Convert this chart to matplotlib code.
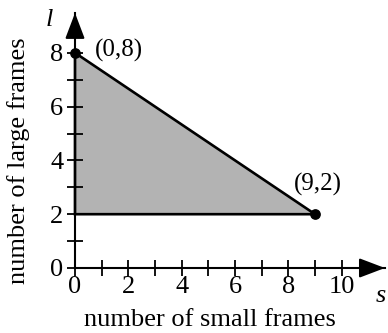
import matplotlib
matplotlib.use("Agg")
import matplotlib.pyplot as plt
from matplotlib.ticker import FuncFormatter

# Data
vertices_s = [0, 9, 0]
vertices_l = [8, 2, 2]
points = [(0, 8), (9, 2)]
point_labels = ["(0,8)", "(9,2)"]
x_ticks = list(range(0, 11))
y_ticks = list(range(0, 9))
x_label = "number of small frames"
y_label = "number of large frames"

plt.rcParams['font.family'] = ['Liberation Serif', 'DejaVu Serif']

W, H = 388, 333
fig = plt.figure(figsize=(W/100, H/100), dpi=100)
x0, y0 = 75, 268
ux, uy = 26.67, 26.9
xmax, ymax = 11.62, 9.48
ax = fig.add_axes([x0/W, (H - y0)/H, xmax*ux/W, ymax*uy/H])
ax.set_xlim(0, xmax)
ax.set_ylim(0, ymax)

ax.fill(vertices_s, vertices_l, facecolor="#b3b3b3", edgecolor="none", zorder=1)
closed_s = vertices_s + [vertices_s[0]]
closed_l = vertices_l + [vertices_l[0]]
ax.plot(closed_s, closed_l, color="black", lw=1.9, zorder=3, clip_on=False, solid_joinstyle="miter")
ax.scatter([p[0] for p in points], [p[1] for p in points], s=45, color="black", zorder=5, clip_on=False)

ax.text(0.75, 8.1, point_labels[0], fontsize=18, ha="left", va="center")
ax.text(9.1, 3.1, point_labels[1], fontsize=18, ha="center", va="center")

for side in ["top", "right"]:
    ax.spines[side].set_visible(False)
for side in ["left", "bottom"]:
    ax.spines[side].set_linewidth(1.5)
    ax.spines[side].set_zorder(4)

# Arrow heads
arrow_style = "-|>,head_length=1.58,head_width=0.6"
ax.annotate("", xy=(1, 0), xytext=(1 - 24/(xmax*ux), 0), xycoords="axes fraction",
            arrowprops=dict(arrowstyle=arrow_style, mutation_scale=10,
                            color="black", lw=1.5, shrinkA=0, shrinkB=0), annotation_clip=False)
ax.annotate("", xy=(0, 1), xytext=(0, 1 - 24/(ymax*uy)), xycoords="axes fraction",
            arrowprops=dict(arrowstyle=arrow_style, mutation_scale=10,
                            color="black", lw=1.5, shrinkA=0, shrinkB=0), annotation_clip=False)

fmt = FuncFormatter(lambda v, p: f"{int(round(v))}" if int(round(v)) % 2 == 0 else "")
ax.set_xticks(x_ticks)
ax.set_yticks(y_ticks)
ax.xaxis.set_major_formatter(fmt)
ax.yaxis.set_major_formatter(fmt)
ax.tick_params(axis="both", direction="inout", length=11, width=1.3, labelsize=19)
ax.tick_params(axis="x", pad=0)
ax.tick_params(axis="y", pad=3)

fig.text(210/W, 1 - 320/H, x_label, fontsize=19, ha="center", va="center")
fig.text(19/W, 1 - 161/H, y_label, fontsize=19, ha="center", va="center", rotation=90)

fig.text(49/W, 1 - 20/H, "l", fontsize=19, style="italic", ha="center", va="center")
fig.text(381/W, 1 - 296/H, "s", fontsize=19, style="italic", ha="center", va="center")

fig.savefig("out.png", dpi=100)
